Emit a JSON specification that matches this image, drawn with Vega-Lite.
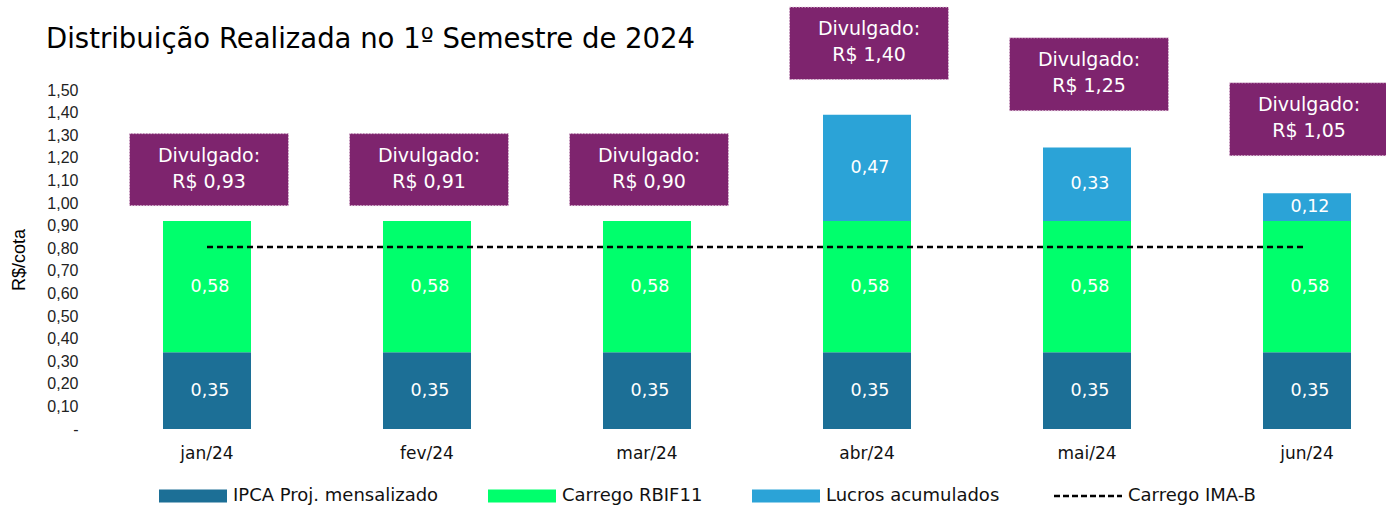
{
  "$schema": "https://vega.github.io/schema/vega-lite/v6.json",
  "autosize": "none",
  "width": 1254,
  "height": 339,
  "padding": {"left": 130, "top": 90, "right": 2, "bottom": 76},
  "background": "#ffffff",
  "title": {
    "text": "Distribuição Realizada no 1º Semestre de 2024",
    "anchor": "start",
    "frame": "group",
    "dx": -84,
    "offset": -47,
    "font": "DejaVu Sans",
    "fontSize": 27.5,
    "fontWeight": "normal",
    "color": "#000000"
  },
  "datasets": {
    "barras": [
      {"mes": "jan/24", "serie": "IPCA Proj. mensalizado", "ordem": 1, "valor": 0.34, "rotulo": "0,35"},
      {"mes": "jan/24", "serie": "Carrego RBIF11", "ordem": 2, "valor": 0.58, "rotulo": "0,58"},
      {"mes": "fev/24", "serie": "IPCA Proj. mensalizado", "ordem": 1, "valor": 0.34, "rotulo": "0,35"},
      {"mes": "fev/24", "serie": "Carrego RBIF11", "ordem": 2, "valor": 0.58, "rotulo": "0,58"},
      {"mes": "mar/24", "serie": "IPCA Proj. mensalizado", "ordem": 1, "valor": 0.34, "rotulo": "0,35"},
      {"mes": "mar/24", "serie": "Carrego RBIF11", "ordem": 2, "valor": 0.58, "rotulo": "0,58"},
      {"mes": "abr/24", "serie": "IPCA Proj. mensalizado", "ordem": 1, "valor": 0.34, "rotulo": "0,35"},
      {"mes": "abr/24", "serie": "Carrego RBIF11", "ordem": 2, "valor": 0.58, "rotulo": "0,58"},
      {"mes": "abr/24", "serie": "Lucros acumulados", "ordem": 3, "valor": 0.47, "rotulo": "0,47"},
      {"mes": "mai/24", "serie": "IPCA Proj. mensalizado", "ordem": 1, "valor": 0.34, "rotulo": "0,35"},
      {"mes": "mai/24", "serie": "Carrego RBIF11", "ordem": 2, "valor": 0.58, "rotulo": "0,58"},
      {"mes": "mai/24", "serie": "Lucros acumulados", "ordem": 3, "valor": 0.326, "rotulo": "0,33"},
      {"mes": "jun/24", "serie": "IPCA Proj. mensalizado", "ordem": 1, "valor": 0.34, "rotulo": "0,35"},
      {"mes": "jun/24", "serie": "Carrego RBIF11", "ordem": 2, "valor": 0.58, "rotulo": "0,58"},
      {"mes": "jun/24", "serie": "Lucros acumulados", "ordem": 3, "valor": 0.123, "rotulo": "0,12"}
    ],
    "imab": [
      {"mes": "jan/24", "valor": 0.805},
      {"mes": "fev/24", "valor": 0.805},
      {"mes": "mar/24", "valor": 0.805},
      {"mes": "abr/24", "valor": 0.805},
      {"mes": "mai/24", "valor": 0.805},
      {"mes": "jun/24", "valor": 0.805}
    ],
    "caixas": [
      {"mes": "jan/24", "caixa_min": 0.988, "caixa_max": 1.307, "texto": "Divulgado:\nR$ 0,93"},
      {"mes": "fev/24", "caixa_min": 0.988, "caixa_max": 1.307, "texto": "Divulgado:\nR$ 0,91"},
      {"mes": "mar/24", "caixa_min": 0.988, "caixa_max": 1.307, "texto": "Divulgado:\nR$ 0,90"},
      {"mes": "abr/24", "caixa_min": 1.546, "caixa_max": 1.867, "texto": "Divulgado:\nR$ 1,40"},
      {"mes": "mai/24", "caixa_min": 1.408, "caixa_max": 1.731, "texto": "Divulgado:\nR$ 1,25"},
      {"mes": "jun/24", "caixa_min": 1.209, "caixa_max": 1.532, "texto": "Divulgado:\nR$ 1,05"}
    ]
  },
  "layer": [
    {
      "data": {"name": "barras"},
      "transform": [
        {"stack": "valor", "groupby": ["mes"], "sort": [{"field": "ordem", "order": "ascending"}], "as": ["v0", "v1"]}
      ],
      "mark": {"type": "bar", "width": 88},
      "encoding": {
        "x": {
          "field": "mes", "type": "nominal",
          "scale": {"domain": ["jan/24", "fev/24", "mar/24", "abr/24", "mai/24", "jun/24"], "paddingInner": 0.6, "paddingOuter": 0.15},
          "axis": {"title": null, "labelAngle": 0, "ticks": false, "tickSize": 0, "domain": false, "labelPadding": 16, "labelFont": "DejaVu Sans", "labelFontSize": 17, "labelColor": "#111111"}
        },
        "y": {
          "field": "v0", "type": "quantitative", "title": "R$/cota",
          "scale": {"domain": [0, 1.5], "nice": false, "zero": true},
          "axis": {
            "values": [0, 0.1, 0.2, 0.3, 0.4, 0.5, 0.6, 0.7, 0.8, 0.9, 1.0, 1.1, 1.2, 1.3, 1.4, 1.5],
            "labelExpr": "datum.value === 0 ? '-' : replace(format(datum.value, '.2f'), '.', ',')",
            "labelOverlap": false,
            "grid": false, "domain": false, "ticks": false, "tickSize": 0,
            "labelPadding": 52, "labelFont": "Liberation Sans", "labelFontSize": 16, "labelColor": "#222222",
            "titleFont": "Liberation Sans", "titleFontSize": 18, "titleFontWeight": "normal", "titleColor": "#000000", "titlePadding": 18
          }
        },
        "y2": {"field": "v1"},
        "color": {
          "field": "serie", "type": "nominal",
          "scale": {
            "domain": ["IPCA Proj. mensalizado", "Carrego RBIF11", "Lucros acumulados", "Carrego IMA-B"],
            "range": ["#1C6F96", "#00FF6C", "#2BA3D7", "#000000"]
          },
          "legend": {
            "orient": "none", "legendX": 54, "legendY": 397, "direction": "horizontal", "title": null,
            "symbolType": "M-1,-0.19H1V0.19H-1Z", "symbolSize": 4624,
            "labelFont": "DejaVu Sans", "labelFontSize": 18, "labelColor": "#111111", "labelOffset": 31,
            "labelLimit": 400, "columnPadding": 49, "padding": 0,
            "encode": {
              "symbols": {
                "update": {
                  "shape": {"signal": "datum.value === 'Carrego IMA-B' ? 'M-1,0H1' : 'M-1,-0.19H1V0.19H-1Z'"},
                  "fill": {"signal": "datum.value === 'Carrego IMA-B' ? 'transparent' : scale('color', datum.value)"},
                  "stroke": {"signal": "datum.value === 'Carrego IMA-B' ? '#000000' : 'transparent'"},
                  "strokeWidth": {"signal": "datum.value === 'Carrego IMA-B' ? 2.5 : 0"},
                  "strokeDash": {"signal": "datum.value === 'Carrego IMA-B' ? [6, 3] : [1, 0]"},
                  "opacity": {"value": 1}
                }
              }
            }
          }
        }
      }
    },
    {
      "data": {"name": "barras"},
      "transform": [
        {"stack": "valor", "groupby": ["mes"], "sort": [{"field": "ordem", "order": "ascending"}], "as": ["v0", "v1"]},
        {"fold": ["v0", "v1"], "as": ["ext", "pos"]}
      ],
      "mark": {"type": "text", "color": "#ffffff", "font": "DejaVu Sans", "fontSize": 17.5, "align": "center", "baseline": "middle", "xOffset": 3},
      "encoding": {
        "x": {"field": "mes", "type": "nominal"},
        "y": {
          "field": "pos", "aggregate": "mean", "type": "quantitative", "title": "R$/cota",
          "axis": {
            "values": [0, 0.1, 0.2, 0.3, 0.4, 0.5, 0.6, 0.7, 0.8, 0.9, 1.0, 1.1, 1.2, 1.3, 1.4, 1.5],
            "labelExpr": "datum.value === 0 ? '-' : replace(format(datum.value, '.2f'), '.', ',')",
            "labelOverlap": false,
            "grid": false, "domain": false, "ticks": false, "tickSize": 0,
            "labelPadding": 52, "labelFont": "Liberation Sans", "labelFontSize": 16, "labelColor": "#222222",
            "titleFont": "Liberation Sans", "titleFontSize": 18, "titleFontWeight": "normal", "titleColor": "#000000", "titlePadding": 18
          }
        },
        "detail": {"field": "serie"},
        "text": {"field": "rotulo"}
      }
    },
    {
      "data": {"name": "imab"},
      "mark": {"type": "line", "color": "#000000", "strokeDash": [6, 4], "strokeWidth": 2.5},
      "encoding": {
        "x": {"field": "mes", "type": "nominal"},
        "y": {
          "field": "valor", "type": "quantitative", "title": "R$/cota",
          "axis": {
            "values": [0, 0.1, 0.2, 0.3, 0.4, 0.5, 0.6, 0.7, 0.8, 0.9, 1.0, 1.1, 1.2, 1.3, 1.4, 1.5],
            "labelExpr": "datum.value === 0 ? '-' : replace(format(datum.value, '.2f'), '.', ',')",
            "labelOverlap": false,
            "grid": false, "domain": false, "ticks": false, "tickSize": 0,
            "labelPadding": 52, "labelFont": "Liberation Sans", "labelFontSize": 16, "labelColor": "#222222",
            "titleFont": "Liberation Sans", "titleFontSize": 18, "titleFontWeight": "normal", "titleColor": "#000000", "titlePadding": 18
          }
        }
      }
    },
    {
      "data": {"name": "caixas"},
      "mark": {"type": "bar", "width": 159, "xOffset": 2, "fill": "#7E246E", "stroke": "#E8D2E3", "strokeWidth": 1, "strokeDash": [1.5, 1.5]},
      "encoding": {
        "x": {"field": "mes", "type": "nominal"},
        "y": {
          "field": "caixa_min", "type": "quantitative", "title": "R$/cota",
          "axis": {
            "values": [0, 0.1, 0.2, 0.3, 0.4, 0.5, 0.6, 0.7, 0.8, 0.9, 1.0, 1.1, 1.2, 1.3, 1.4, 1.5],
            "labelExpr": "datum.value === 0 ? '-' : replace(format(datum.value, '.2f'), '.', ',')",
            "labelOverlap": false,
            "grid": false, "domain": false, "ticks": false, "tickSize": 0,
            "labelPadding": 52, "labelFont": "Liberation Sans", "labelFontSize": 16, "labelColor": "#222222",
            "titleFont": "Liberation Sans", "titleFontSize": 18, "titleFontWeight": "normal", "titleColor": "#000000", "titlePadding": 18
          }
        },
        "y2": {"field": "caixa_max"}
      }
    },
    {
      "data": {"name": "caixas"},
      "mark": {"type": "text", "color": "#ffffff", "font": "DejaVu Sans", "fontSize": 19, "align": "center", "baseline": "top", "dy": 13, "lineHeight": 26, "lineBreak": "\n", "xOffset": 2},
      "encoding": {
        "x": {"field": "mes", "type": "nominal"},
        "y": {
          "field": "caixa_max", "type": "quantitative", "title": "R$/cota",
          "axis": {
            "values": [0, 0.1, 0.2, 0.3, 0.4, 0.5, 0.6, 0.7, 0.8, 0.9, 1.0, 1.1, 1.2, 1.3, 1.4, 1.5],
            "labelExpr": "datum.value === 0 ? '-' : replace(format(datum.value, '.2f'), '.', ',')",
            "labelOverlap": false,
            "grid": false, "domain": false, "ticks": false, "tickSize": 0,
            "labelPadding": 52, "labelFont": "Liberation Sans", "labelFontSize": 16, "labelColor": "#222222",
            "titleFont": "Liberation Sans", "titleFontSize": 18, "titleFontWeight": "normal", "titleColor": "#000000", "titlePadding": 18
          }
        },
        "text": {"field": "texto"}
      }
    }
  ],
  "config": {
    "view": {"stroke": null},
    "axis": {"labelFontWeight": "normal"},
    "axisY": {"labelOverlap": false}
  }
}
